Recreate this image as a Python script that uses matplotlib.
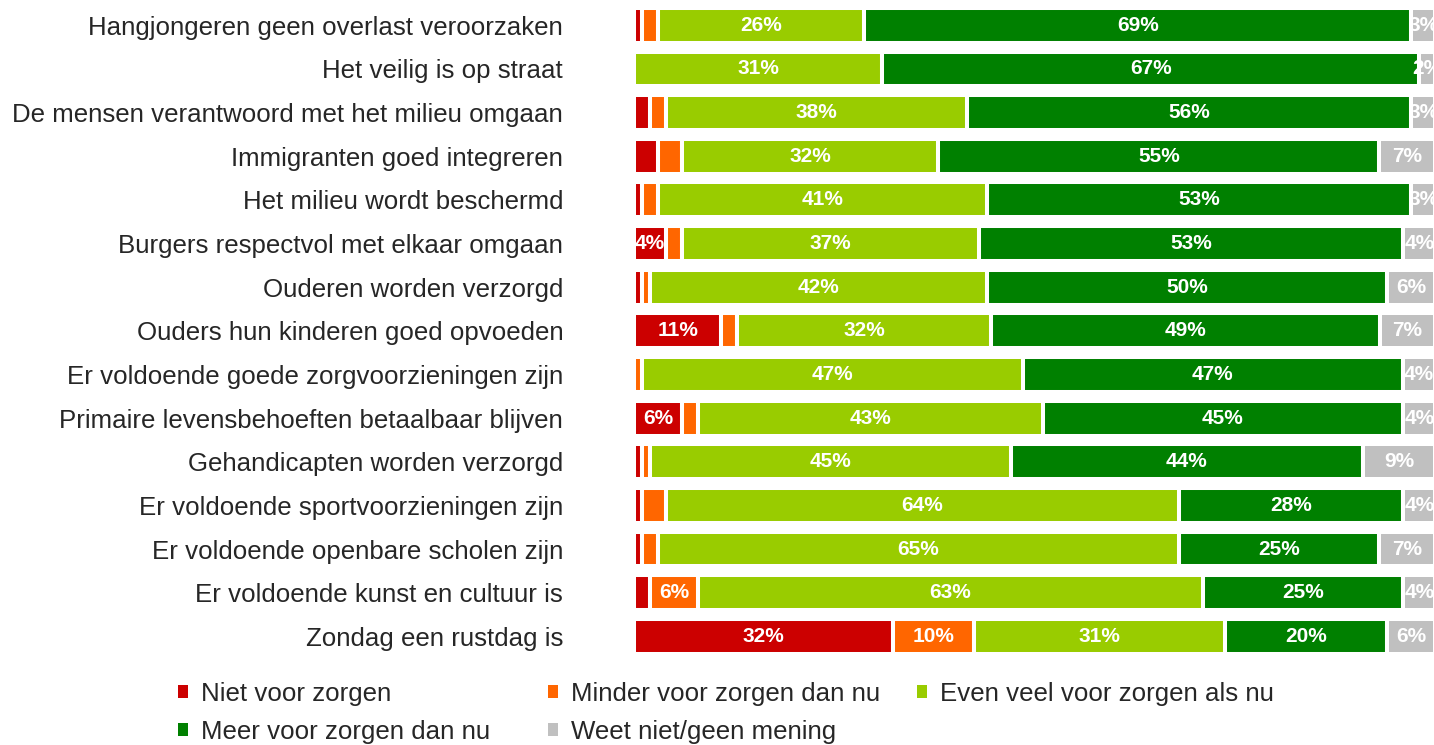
import numpy as np
import matplotlib
matplotlib.use("Agg")
import matplotlib.pyplot as plt
from matplotlib.patches import Patch

plt.rcParams['font.family'] = ['Liberation Sans', 'DejaVu Sans']

# categories, top to bottom
categories = [
    "Hangjongeren geen overlast veroorzaken",
    "Het veilig is op straat",
    "De mensen verantwoord met het milieu omgaan",
    "Immigranten goed integreren",
    "Het milieu wordt beschermd",
    "Burgers respectvol met elkaar omgaan",
    "Ouderen worden verzorgd",
    "Ouders hun kinderen goed opvoeden",
    "Er voldoende goede zorgvoorzieningen zijn",
    "Primaire levensbehoeften betaalbaar blijven",
    "Gehandicapten worden verzorgd",
    "Er voldoende sportvoorzieningen zijn",
    "Er voldoende openbare scholen zijn",
    "Er voldoende kunst en cultuur is",
    "Zondag een rustdag is",
]

# percentages per answer (as labelled in the chart)
niet = [1, 0, 2, 3, 1, 4, 1, 11, 0, 6, 1, 1, 1, 2, 32]
minder = [2, 0, 2, 3, 2, 2, 1, 2, 1, 2, 1, 3, 2, 6, 10]
even = [26, 31, 38, 32, 41, 37, 42, 32, 47, 43, 45, 64, 65, 63, 31]
meer = [69, 67, 56, 55, 53, 53, 50, 49, 47, 45, 44, 28, 25, 25, 20]
weet = [3, 2, 3, 7, 3, 4, 6, 7, 4, 4, 9, 4, 7, 4, 6]

series_names = ["Niet voor zorgen", "Minder voor zorgen dan nu",
                "Even veel voor zorgen als nu", "Meer voor zorgen dan nu",
                "Weet niet/geen mening"]
colors = ["#CC0000", "#FF6600", "#99CC00", "#008000", "#C0C0C0"]

data = np.array([niet, minder, even, meer, weet], dtype=float)
# 100% stacked: each row normalised to its total
shares = data / data.sum(axis=0) * 100

fig = plt.figure(figsize=(14.34, 7.45), dpi=100)
ax = fig.add_axes([634 / 1434, 0.1166, 801.3 / 1434, 0.8787])

y = np.arange(len(categories))
left = np.zeros(len(categories))
for i, (name, col) in enumerate(zip(series_names, colors)):
    ax.barh(y, shares[i], left=left, height=0.8, color=col,
            edgecolor="white", linewidth=2.9, label=name)
    for j in range(len(categories)):
        v = data[i, j]
        # small red/orange pieces carry no label, grey always does
        if v >= 4 or (i == 4 and v > 0):
            ax.text(left[j] + shares[i, j] / 2, y[j], f"{int(v)}%",
                    ha="center", va="center", color="white",
                    fontsize=15, fontweight="bold", clip_on=False)
    left += shares[i]

ax.set_xlim(0, 100)
ax.set_ylim(len(categories) - 0.5, -0.5)
ax.set_yticks(y)
ax.set_yticklabels(categories, fontsize=18.6, color="#262626")
ax.tick_params(axis="y", length=0, pad=51)
ax.set_xticks([])
for s in ax.spines.values():
    s.set_visible(False)

# legend laid out row-wise in three fixed-width columns
handles = [Patch(facecolor=c, edgecolor="none") for c in colors]
columns = [[0, 3], [1, 4], [2]]
col_x = [178, 548, 917]
for cols, x in zip(columns, col_x):
    fig.legend([handles[k] for k in cols], [series_names[k] for k in cols],
               loc="upper left", bbox_to_anchor=(x / 1434, 1 - 682 / 745),
               frameon=False, fontsize=18.6, handlelength=0.4, handleheight=0.4,
               handletextpad=0.5, labelspacing=0.55, borderpad=0,
               borderaxespad=0, labelcolor="#262626")

fig.savefig("out.png", dpi=100)
